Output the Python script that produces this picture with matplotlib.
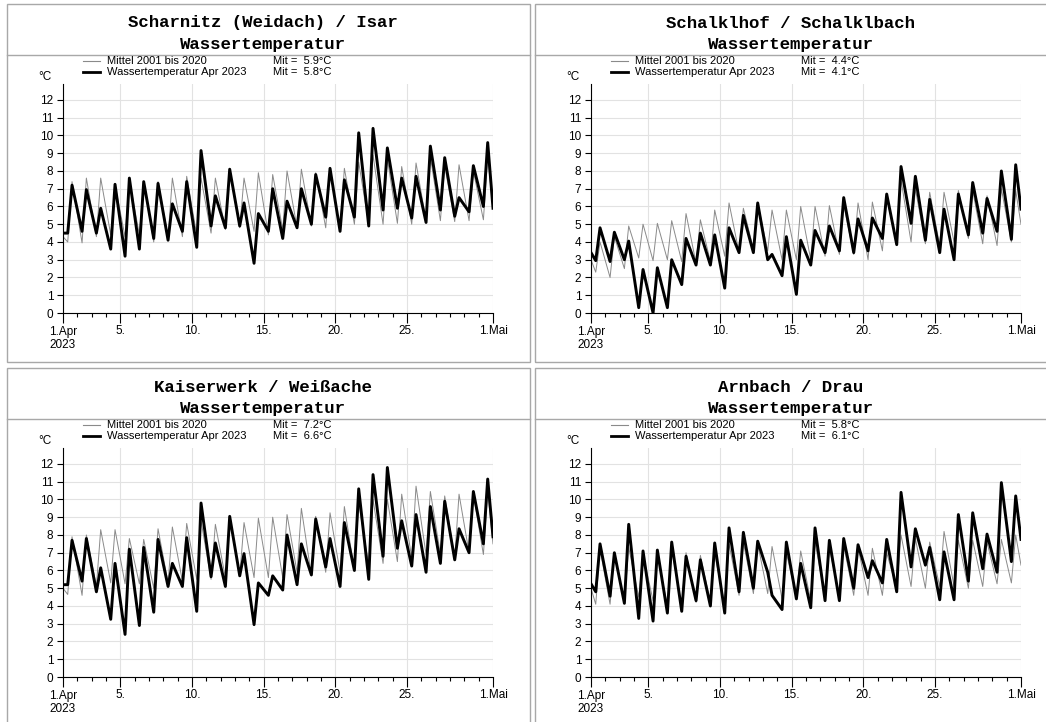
import numpy as np
import matplotlib
matplotlib.use('Agg')
import matplotlib.pyplot as plt
from matplotlib.lines import Line2D
from matplotlib.patches import Rectangle

# daily low (morning) and high (afternoon) values, 1.Apr .. 30.Apr
scharnitz_2023_lo = [4.5, 4.6, 4.5, 3.6, 3.2, 3.6, 4.2, 4.1, 4.6, 3.7, 4.9, 4.8, 4.9, 2.8, 4.6,
                     4.2, 4.8, 5.0, 5.4, 4.6, 5.4, 4.9, 5.8, 5.9, 5.35, 5.1, 5.8, 5.45, 5.7, 6.0]
scharnitz_2023_hi = [7.2, 6.95, 5.9, 7.25, 7.6, 7.4, 7.3, 6.15, 7.4, 9.15, 6.6, 8.1, 6.2, 5.6, 7.0,
                     6.3, 7.0, 7.8, 8.15, 7.5, 10.15, 10.4, 9.3, 7.6, 7.7, 9.4, 8.75, 6.5, 8.3, 9.6]
scharnitz_2023_ends = [4.5, 5.9]
scharnitz_mean_lo = [4.0, 3.95, 4.3, 4.4, 4.3, 4.4, 4.0, 4.3, 4.3, 4.4, 4.5, 4.7, 4.8, 4.6, 4.4,
                     4.7, 4.8, 4.9, 4.8, 4.7, 5.0, 5.0, 5.0, 5.05, 5.0, 5.2, 5.2, 5.15, 5.2, 5.25]
scharnitz_mean_hi = [7.4, 7.6, 7.6, 7.2, 7.5, 7.4, 7.4, 7.6, 7.7, 7.6, 7.6, 8.0, 7.6, 7.9, 7.8,
                     8.0, 8.1, 7.9, 8.1, 8.15, 8.5, 8.9, 8.7, 8.25, 8.45, 8.8, 8.3, 8.35, 8.0, 8.8]
scharnitz_mean_ends = [4.3, 5.9]

schalklhof_2023_lo = [2.95, 2.9, 3.0, 0.3, 0.0, 0.3, 1.6, 2.7, 2.7, 1.4, 3.4, 3.4, 3.0, 2.1, 1.05,
                      2.7, 3.4, 3.5, 3.4, 3.5, 4.2, 3.85, 5.05, 4.1, 3.4, 3.0, 4.4, 4.5, 4.6, 4.15]
schalklhof_2023_hi = [4.8, 4.55, 4.05, 2.45, 2.55, 3.0, 4.2, 4.5, 4.4, 4.8, 5.5, 6.2, 3.3, 4.3, 4.1,
                      4.65, 4.9, 6.5, 5.3, 5.35, 6.7, 8.25, 7.7, 6.4, 5.85, 6.7, 7.35, 6.45, 8.0, 8.35]
schalklhof_2023_ends = [3.4, 5.85]
schalklhof_mean_lo = [2.3, 2.0, 2.5, 3.1, 2.95, 3.0, 2.9, 2.8, 2.9, 3.2, 3.4, 3.6, 3.5, 3.0, 3.0,
                      3.0, 3.2, 3.3, 3.3, 3.0, 3.5, 3.9, 4.0, 3.9, 3.8, 4.0, 4.2, 3.9, 3.8, 4.0]
schalklhof_mean_hi = [4.0, 4.3, 4.9, 5.0, 5.05, 5.2, 5.6, 5.25, 5.8, 6.2, 5.9, 6.2, 5.8, 5.8, 6.0,
                      6.0, 6.05, 6.1, 6.2, 6.25, 6.5, 7.5, 7.0, 6.8, 6.8, 6.9, 6.9, 6.6, 7.0, 6.9]
schalklhof_mean_ends = [3.0, 5.0]

kaiserwerk_2023_lo = [5.2, 5.4, 4.8, 3.25, 2.4, 2.9, 3.65, 5.1, 5.1, 3.7, 5.65, 5.1, 5.7, 2.95, 4.6,
                      4.9, 5.2, 5.75, 6.2, 5.1, 6.0, 5.5, 6.8, 7.25, 6.25, 5.9, 6.4, 6.6, 7.0, 7.5]
kaiserwerk_2023_hi = [7.7, 7.8, 6.15, 6.4, 7.2, 7.3, 7.75, 6.4, 7.85, 9.8, 7.55, 9.05, 6.95, 5.3, 5.7,
                      8.0, 7.5, 8.9, 7.8, 8.7, 10.6, 11.4, 11.8, 8.8, 9.15, 9.6, 9.9, 8.35, 10.45, 11.15]
kaiserwerk_2023_ends = [5.2, 7.9]
kaiserwerk_mean_lo = [4.65, 4.6, 5.1, 5.3, 5.25, 5.25, 5.0, 5.3, 5.4, 5.5, 5.5, 5.6, 5.7, 5.6, 5.6,
                      5.6, 5.9, 5.7, 5.9, 5.9, 6.0, 6.3, 6.4, 6.5, 6.7, 6.9, 6.9, 6.7, 7.0, 6.9]
kaiserwerk_mean_hi = [7.9, 8.0, 8.3, 8.3, 7.8, 7.75, 8.35, 8.45, 8.65, 8.8, 8.6, 8.9, 8.7, 8.95, 9.0,
                      9.15, 9.5, 9.05, 9.25, 9.6, 9.8, 10.0, 10.0, 10.3, 10.75, 10.45, 10.2, 10.3, 10.3, 10.5]
kaiserwerk_mean_ends = [5.0, 7.5]

arnbach_2023_lo = [4.8, 4.55, 4.15, 3.3, 3.15, 3.6, 3.7, 4.3, 4.0, 3.6, 4.8, 5.0, 5.9, 3.8, 4.4,
                   3.9, 4.3, 4.3, 5.0, 5.6, 5.3, 4.8, 6.2, 6.3, 4.35, 4.35, 5.4, 6.1, 5.9, 6.5]
arnbach_2023_hi = [7.5, 7.0, 8.6, 7.1, 7.15, 7.6, 6.8, 6.6, 7.55, 8.4, 8.15, 7.65, 4.6, 7.6, 6.4,
                   8.4, 7.7, 7.8, 7.45, 6.55, 7.75, 10.4, 8.35, 7.3, 7.05, 9.15, 9.25, 8.05, 10.95, 10.2]
arnbach_2023_ends = [5.25, 7.75]
arnbach_mean_lo = [4.1, 4.1, 4.2, 4.5, 4.3, 4.0, 4.0, 4.2, 4.2, 4.1, 4.6, 4.7, 4.7, 4.4, 4.5,
                   4.3, 4.5, 4.5, 4.6, 4.6, 4.6, 5.0, 5.1, 5.0, 5.1, 5.1, 5.0, 5.1, 5.25, 5.3]
arnbach_mean_hi = [7.2, 6.9, 7.3, 6.9, 6.9, 7.2, 7.0, 6.85, 6.9, 7.5, 7.6, 7.5, 7.35, 7.0, 7.1,
                   7.6, 7.3, 7.4, 7.3, 7.25, 7.0, 8.0, 7.8, 7.6, 8.2, 7.7, 7.7, 7.6, 7.75, 8.0]
arnbach_mean_ends = [5.0, 6.3]

titles = ['Scharnitz (Weidach) / Isar', 'Schalklhof / Schalklbach',
          'Kaiserwerk / Weißache', 'Arnbach / Drau']
mean_labels = [5.9, 4.4, 7.2, 5.8]
obs_labels = [5.8, 4.1, 6.6, 6.1]

tick_days = [0, 4, 9, 14, 19, 24, 30]
tick_labels = ['1.Apr\n2023', '5.', '10.', '15.', '20.', '25.', '1.Mai']

W, H = 1046, 722
GRAY = '#8a8a8a'
SANS = 'Liberation Sans'


def fx(x):
    return x / W


def fy(y):
    return 1 - y / H


def series(lo, hi, ends):
    days = np.arange(30)
    t = [0.0]
    v = [ends[0]]
    for d in days:
        t += [d + 0.33, d + 0.63]
        v += [lo[d], hi[d]]
    t.append(30.0)
    v.append(ends[1])
    return t, v


fig = plt.figure(figsize=(W / 100, H / 100), dpi=100)

panels = [
    (0, 0, scharnitz_mean_lo, scharnitz_mean_hi, scharnitz_mean_ends,
     scharnitz_2023_lo, scharnitz_2023_hi, scharnitz_2023_ends),
    (528, 0, schalklhof_mean_lo, schalklhof_mean_hi, schalklhof_mean_ends,
     schalklhof_2023_lo, schalklhof_2023_hi, schalklhof_2023_ends),
    (0, 364, kaiserwerk_mean_lo, kaiserwerk_mean_hi, kaiserwerk_mean_ends,
     kaiserwerk_2023_lo, kaiserwerk_2023_hi, kaiserwerk_2023_ends),
    (528, 364, arnbach_mean_lo, arnbach_mean_hi, arnbach_mean_ends,
     arnbach_2023_lo, arnbach_2023_hi, arnbach_2023_ends),
]

for i, (dx, dy, mlo, mhi, mend, olo, ohi, oend) in enumerate(panels):
    # frame and title box
    fig.add_artist(Rectangle((fx(7 + dx), fy(362 + dy)), 523 / W, 358 / H,
                             transform=fig.transFigure, fill=False, ec='#a8a8a8', lw=1.0))
    fig.add_artist(Line2D([fx(7 + dx), fx(530 + dx)], [fy(55 + dy)] * 2,
                          transform=fig.transFigure, color='#a8a8a8', lw=1.0))
    fig.text(fx(263 + dx), fy(23 + dy), titles[i], ha='center', va='center',
             family='Liberation Mono', weight='bold', size=12.5)
    fig.text(fx(263 + dx), fy(44 + dy), 'Wassertemperatur', ha='center', va='center',
             family='Liberation Mono', weight='bold', size=12.5)

    # legend
    fig.add_artist(Line2D([fx(83 + dx), fx(100 + dx)], [fy(61 + dy)] * 2,
                          transform=fig.transFigure, color=GRAY, lw=0.8))
    fig.add_artist(Line2D([fx(83 + dx), fx(100 + dx)], [fy(72 + dy)] * 2,
                          transform=fig.transFigure, color='black', lw=2.0))
    fig.text(fx(107 + dx), fy(61 + dy), 'Mittel 2001 bis 2020', va='center', family=SANS, size=8)
    fig.text(fx(107 + dx), fy(72 + dy), 'Wassertemperatur Apr 2023', va='center', family=SANS, size=8)
    fig.text(fx(273 + dx), fy(61 + dy), f'Mit =  {mean_labels[i]:.1f}°C', va='center', family=SANS, size=8)
    fig.text(fx(273 + dx), fy(72 + dy), f'Mit =  {obs_labels[i]:.1f}°C', va='center', family=SANS, size=8)
    fig.text(fx(45 + dx), fy(77 + dy), '°C', ha='center', va='center', family=SANS, size=8.5)

    ax = fig.add_axes([fx(63 + dx), fy(313 + dy), 430 / W, 229 / H])
    tm, vm = series(mlo, mhi, mend)
    to, vo = series(olo, ohi, oend)
    ax.plot(tm, vm, color=GRAY, lw=0.7, solid_joinstyle='round')
    ax.plot(to, vo, color='black', lw=2.1, solid_joinstyle='round')

    ax.set_xlim(0, 30)
    ax.set_ylim(0, 12.9)
    ax.set_yticks(range(13))
    ax.set_xticks(tick_days)
    ax.set_xticklabels(tick_labels)
    ax.set_xticks(range(31), minor=True)
    for s in ['top', 'right']:
        ax.spines[s].set_visible(False)
    for s in ['left', 'bottom']:
        ax.spines[s].set_linewidth(0.8)
    ax.tick_params(axis='x', which='major', length=7, width=0.8, pad=2, labelsize=8.5)
    ax.tick_params(axis='x', which='minor', length=3, width=0.8)
    ax.tick_params(axis='y', length=4.5, width=0.8, pad=2.5, labelsize=8.5)
    for lab in ax.get_xticklabels() + ax.get_yticklabels():
        lab.set_family(SANS)
    ax.grid(True, which='major', color='#e2e2e2', lw=0.8)
    ax.set_axisbelow(True)

plt.savefig('out.png', dpi=100)
